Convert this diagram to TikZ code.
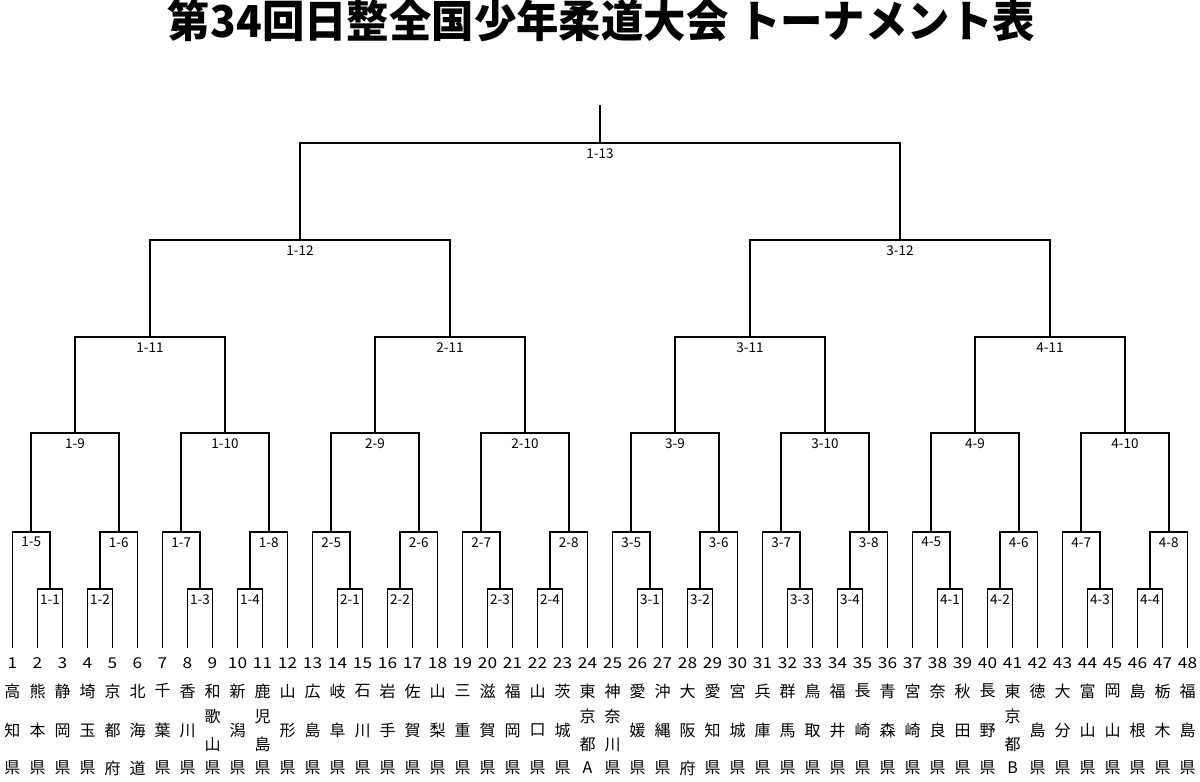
\documentclass[tikz,border=0pt]{standalone}
\usepackage{fontspec}
\usetikzlibrary{calc}
\newfontfamily\jp{Noto Sans CJK JP}
\newcommand\mymatch[5]{%
  \coordinate (tmp) at ($(#2)!0.5!(#3)$);
  \coordinate (#1) at (tmp |- 0,-#4);
  \draw[br] (#2) |- (#1) -| (#3);
  \node[lab] (l#1) at (#1) {#5};
}
\begin{document}
\begin{tikzpicture}[x=1pt,y=1pt,
  br/.style={line width=1.7pt, line join=miter},
  lab/.style={font=\jp\fontsize{13.5}{14}\selectfont, inner sep=0pt, yshift=-10.5pt},
  num/.style={font=\jp\fontsize{15}{15}\selectfont, inner sep=0pt, xscale=1.15},
  nm/.style={font=\jp\fontsize{16}{28}\selectfont, inner sep=0pt, align=center}]
\useasboundingbox (0,0) rectangle (1200,-782);
\node[font=\jp\bfseries\fontsize{44}{44}\selectfont, inner sep=0pt] (title) at (601.5,-21)
  {\resizebox{867pt}{\height}{第34回日整全国少年柔道大会 トーナメント表}};
\foreach \i in {1,...,48}{
  \coordinate (e\i) at ({12.5+25*(\i-1)},-647.7);
  \node[num] (n\i) at ({12.5+25*(\i-1)},-663) {\i};
}
\foreach \i/\p/\q/\r in {1/高/知/県,2/熊/本/県,3/静/岡/県,4/埼/玉/県,5/京/都/府,6/北/海/道,
  7/千/葉/県,8/香/川/県,9/和/{歌\\山}/県,10/新/潟/県,11/鹿/{児\\島}/県,12/山/形/県,
  13/広/島/県,14/岐/阜/県,15/石/川/県,16/岩/手/県,17/佐/賀/県,18/山/梨/県,
  19/三/重/県,20/滋/賀/県,21/福/岡/県,22/山/口/県,23/茨/城/県,24/東/{京\\都}/A,
  25/神/{奈\\川}/県,26/愛/媛/県,27/沖/縄/県,28/大/阪/府,29/愛/知/県,30/宮/城/県,
  31/兵/庫/県,32/群/馬/県,33/鳥/取/県,34/福/井/県,35/長/崎/県,36/青/森/県,
  37/宮/崎/県,38/奈/良/県,39/秋/田/県,40/長/野/県,41/東/{京\\都}/B,42/徳/島/県,
  43/大/分/県,44/富/山/県,45/岡/山/県,46/島/根/県,47/栃/木/県,48/福/島/県}{
  \node[nm] (a\i) at ({12.5+25*(\i-1)},-691) {\p};
  \node[nm] (b\i) at ({12.5+25*(\i-1)},-730.5) {\q};
  \node[nm] (c\i) at ({12.5+25*(\i-1)},-768) {\r};
}
\foreach \g in {1,2,3,4}{
  \pgfmathtruncatemacro\o{12*(\g-1)}
  \pgfmathtruncatemacro\ea{\o+1}
  \pgfmathtruncatemacro\eb{\o+2}
  \pgfmathtruncatemacro\ec{\o+3}
  \pgfmathtruncatemacro\ed{\o+4}
  \pgfmathtruncatemacro\ee{\o+5}
  \pgfmathtruncatemacro\ef{\o+6}
  \pgfmathtruncatemacro\eg{\o+7}
  \pgfmathtruncatemacro\eh{\o+8}
  \pgfmathtruncatemacro\ei{\o+9}
  \pgfmathtruncatemacro\ej{\o+10}
  \pgfmathtruncatemacro\ek{\o+11}
  \pgfmathtruncatemacro\el{\o+12}
  \mymatch{g\g m1}{e\eb}{e\ec}{589.3}{\g-1}
  \mymatch{g\g m2}{e\ed}{e\ee}{589.3}{\g-2}
  \mymatch{g\g m3}{e\eh}{e\ei}{589.3}{\g-3}
  \mymatch{g\g m4}{e\ej}{e\ek}{589.3}{\g-4}
  \mymatch{g\g m5}{e\ea}{g\g m1}{531.7}{\g-5}
  \mymatch{g\g m6}{g\g m2}{e\ef}{531.7}{\g-6}
  \mymatch{g\g m7}{e\eg}{g\g m3}{531.7}{\g-7}
  \mymatch{g\g m8}{g\g m4}{e\el}{531.7}{\g-8}
  \mymatch{g\g m9}{g\g m5}{g\g m6}{433.3}{\g-9}
  \mymatch{g\g m10}{g\g m7}{g\g m8}{433.3}{\g-10}
  \mymatch{g\g m11}{g\g m9}{g\g m10}{336.7}{\g-11}
}
\mymatch{s1}{g1m11}{g2m11}{240}{1-12}
\mymatch{s2}{g3m11}{g4m11}{240}{3-12}
\mymatch{fin}{s1}{s2}{142.7}{1-13}
\coordinate (top) at (600,-105);
\draw[br] (fin) -- (top);
\end{tikzpicture}
\end{document}
